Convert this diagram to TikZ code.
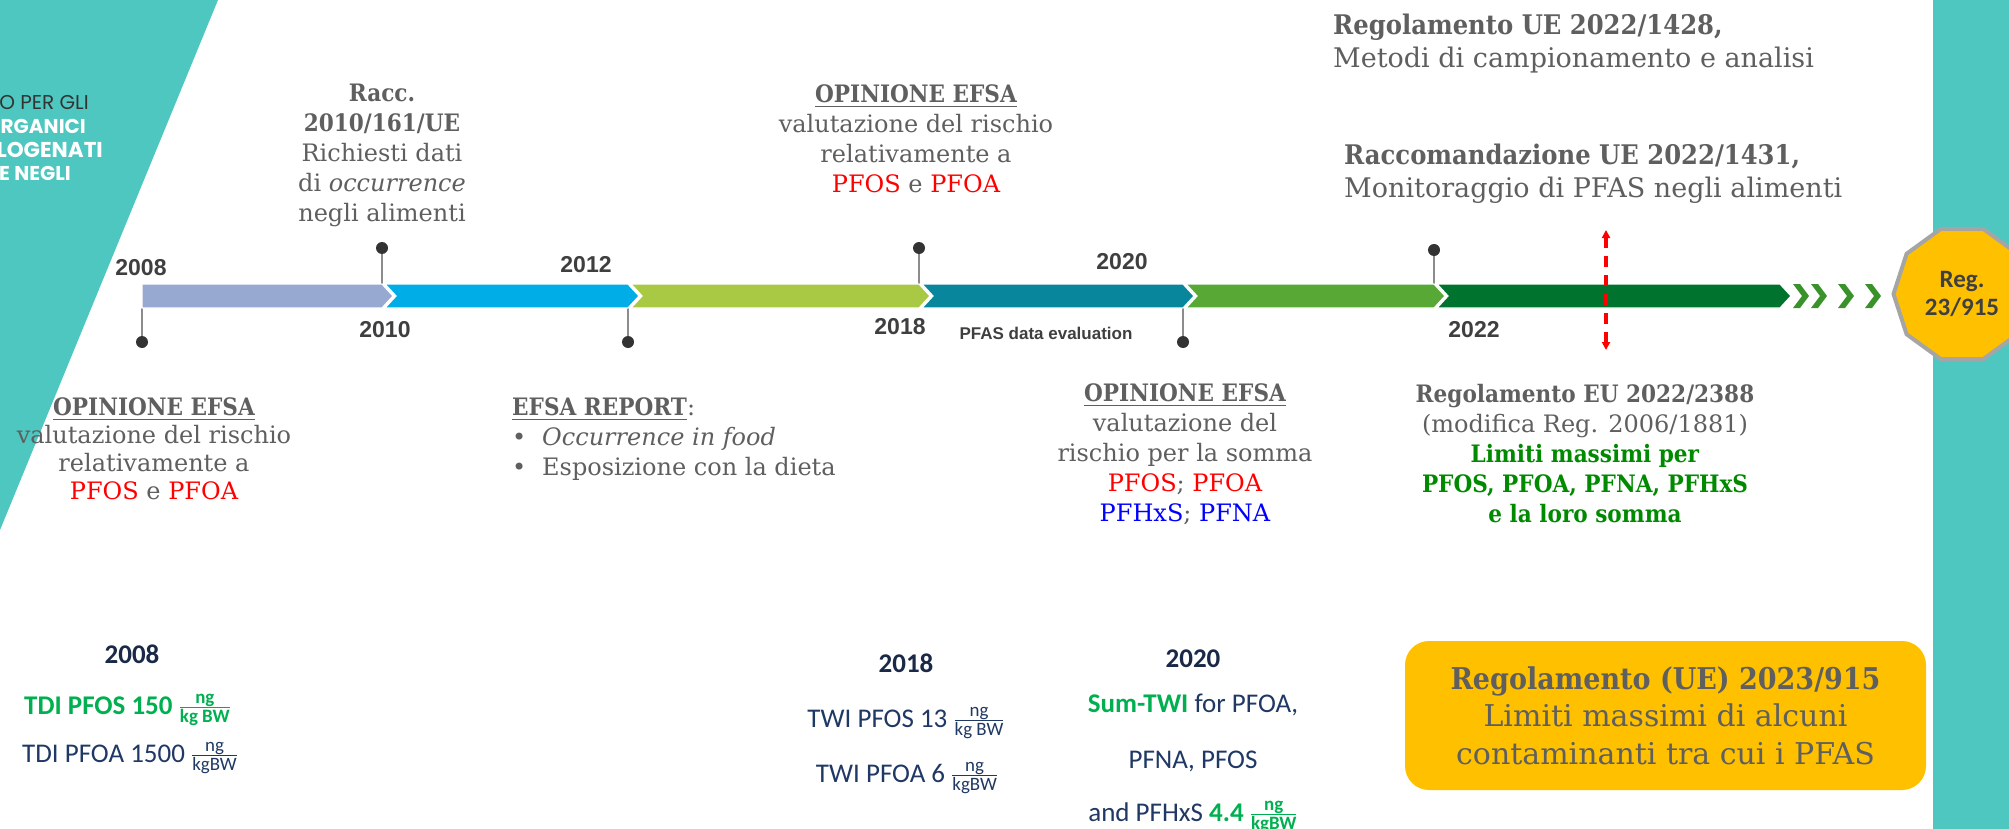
\documentclass[tikz,border=0pt]{standalone}
\usepackage{fontspec}
\usepackage{amsmath}
\setmainfont{DejaVu Serif}[BoldFeatures={FakeStretch=0.9}]
\newfontfamily\calib{Carlito}
\newfontfamily\narrowsans{Liberation Sans}
\newfontfamily\geosans{Poppins}
\usetikzlibrary{shapes.geometric,arrows.meta}

\definecolor{tealbg}{HTML}{4EC7C0}
\definecolor{txtgray}{HTML}{5F5F5F}
\definecolor{segA}{HTML}{97A9D1}
\definecolor{segB}{HTML}{00ADE6}
\definecolor{segC}{HTML}{A9C944}
\definecolor{segD}{HTML}{08879C}
\definecolor{segE}{HTML}{57A834}
\definecolor{segF}{HTML}{00742F}
\definecolor{chev}{HTML}{3A922B}
\definecolor{pfred}{HTML}{FF0000}
\definecolor{pfblue}{HTML}{0000FF}
\definecolor{limgreen}{HTML}{008A00}
\definecolor{navy}{HTML}{1F3864}
\definecolor{navyhead}{HTML}{1A2947}
\definecolor{tdigreen}{HTML}{00B050}
\definecolor{gold}{HTML}{FFC000}
\definecolor{octgray}{HTML}{A5A5A5}
\definecolor{pingray}{HTML}{8C8C8C}
\definecolor{dotgray}{HTML}{333333}
\definecolor{yeargray}{HTML}{3F3F3F}
\definecolor{darktxt}{HTML}{333333}

\newcommand{\unitfr}[2]{\ensuremath{\frac{\text{#1}}{\text{#2}}}}

\tikzset{
  serifnote/.style={font=\fontsize{24}{30}\selectfont, text=txtgray, align=center, inner sep=0pt},
  serifbig/.style={font=\fontsize{27}{33}\selectfont, text=txtgray, align=left, inner sep=0pt},
  yearlbl/.style={font=\narrowsans\bfseries\fontsize{23}{26}\selectfont, text=yeargray, inner sep=0pt},
  pindot/.style={circle, fill=dotgray, minimum size=12pt, inner sep=0pt},
  stem/.style={draw=pingray, line width=1.6pt},
  segment/.style={draw=white, line width=1.2pt},
  lowtext/.style={font=\calib\fontsize{27}{32}\selectfont, text=navy, inner sep=0pt},
  lowhead/.style={font=\calib\bfseries\fontsize{27}{32}\selectfont, text=navyhead, inner sep=0pt},
  sidetext/.style={font=\geosans\fontsize{20}{20}\selectfont, inner sep=0pt, anchor=base east},
  sidebold/.style={sidetext, text=white, font=\geosans\bfseries\fontsize{20}{20}\selectfont},
}

\begin{document}
\begin{tikzpicture}[x=1pt,y=-1pt]
\useasboundingbox (0,0) rectangle (2009,829);
\fill[white] (0,0) rectangle (2009,829);

% side panels
\fill[tealbg] (0,0) -- (218,0) -- (0,530) -- cycle;
\fill[tealbg] (1933,0) rectangle (2009,829);

\node[sidetext, text=darktxt] (side1) at (89,110) {O PER GLI};
\node[sidebold] (side2) at (86,134) {RGANICI};
\node[sidebold, font=\geosans\bfseries\fontsize{21.5}{20}\selectfont] (side3) at (103,158) {LOGENATI};
\node[sidebold] (side4) at (71,181) {E NEGLI};

% pin anchors on the bar
\coordinate (b2008) at (142,308);
\coordinate (b2010) at (382,284);
\coordinate (b2012) at (628,308);
\coordinate (b2018) at (919,284);
\coordinate (b2020) at (1183,308);
\coordinate (b2022) at (1434,284);

\node[pindot] (d2008) at (142,342) {};
\node[pindot] (d2010) at (382,248) {};
\node[pindot] (d2012) at (628,342) {};
\node[pindot] (d2018) at (919,248) {};
\node[pindot] (d2020) at (1183,342) {};
\node[pindot] (d2022) at (1434,250) {};

\draw[stem] (d2008) -- (b2008);
\draw[stem] (d2010) -- (b2010);
\draw[stem] (d2012) -- (b2012);
\draw[stem] (d2018) -- (b2018);
\draw[stem] (d2020) -- (b2020);
\draw[stem] (d2022) -- (b2022);

% timeline segments
\fill[segA, segment] (142,284) -- (382,284) -- (393,296) -- (382,308) -- (142,308) -- cycle;
\fill[segB, segment] (385,284) -- (628,284) -- (639,296) -- (628,308) -- (385,308) -- (396,296) -- cycle;
\fill[segC, segment] (631,284) -- (919,284) -- (930,296) -- (919,308) -- (631,308) -- (642,296) -- cycle;
\fill[segD, segment] (922,284) -- (1183,284) -- (1194,296) -- (1183,308) -- (922,308) -- (933,296) -- cycle;
\fill[segE, segment] (1186,284) -- (1434,284) -- (1445,296) -- (1434,308) -- (1186,308) -- (1197,296) -- cycle;
\fill[segF, segment] (1437,284) -- (1780,284) -- (1791,296) -- (1780,308) -- (1437,308) -- (1448,296) -- cycle;

% trailing chevrons
\foreach \cx in {1793,1811,1838,1865}
  \fill[chev] (\cx,284) -- (\cx+7,284) -- (\cx+16,296) -- (\cx+7,308) -- (\cx,308) -- (\cx+9,296) -- cycle;

% year labels
\node[yearlbl] (y2008) at (141,268) {2008};
\node[yearlbl] (y2010) at (385,330) {2010};
\node[yearlbl] (y2012) at (586,265) {2012};
\node[yearlbl] (y2018) at (900,327) {2018};
\node[yearlbl] (y2020) at (1122,262) {2020};
\node[yearlbl] (y2022) at (1474,330) {2022};
\node[yearlbl, font=\narrowsans\bfseries\fontsize{17}{20}\selectfont] (pfaseval) at (1046,333) {PFAS data evaluation};

% 2022 marker
\coordinate (redtop) at (1606,230);
\coordinate (redbot) at (1606,350);
\draw[draw=pfred, line width=3.5pt, dash pattern=on 11pt off 8pt,
  {Triangle[length=8pt,width=8pt]}-{Triangle[length=8pt,width=8pt]}] (redbot) -- (redtop);

% end marker
\node[regular polygon, regular polygon sides=10, minimum size=137pt, fill=gold,
  draw=octgray, line width=4pt, inner sep=0pt, align=center, text=yeargray,
  font=\calib\bfseries\fontsize{25}{28}\selectfont] (reg915) at (1962,294) {Reg.\\23/915};

% event notes
\node[serifnote] (racc) at (382,155) {\textbf{Racc.}\\\textbf{2010/161/UE}\\Richiesti dati\\di \textit{occurrence}\\negli alimenti};

\node[serifnote, font=\fontsize{24}{28}\selectfont] (op2008) at (154,449) {\textbf{\underline{OPINIONE EFSA}}\\valutazione del rischio\\relativamente a\\\textcolor{pfred}{PFOS} e \textcolor{pfred}{PFOA}};

\node[serifnote, align=left, anchor=west] (report) at (512,439) {\textbf{\underline{EFSA REPORT}}:\\\makebox[30pt][l]{\textbullet}\textit{Occurrence in food}\\\makebox[30pt][l]{\textbullet}Esposizione con la dieta};

\node[serifnote] (op2018) at (916,139) {\textbf{\underline{OPINIONE EFSA}}\\valutazione del rischio\\relativamente a\\\textcolor{pfred}{PFOS} e \textcolor{pfred}{PFOA}};

\node[serifbig, anchor=west] (reg1428) at (1333,44) {\textbf{Regolamento UE 2022/1428,}\\Metodi di campionamento e analisi};

\node[serifbig, anchor=west] (rac1431) at (1344,174) {\textbf{Raccomandazione UE 2022/1431,}\\Monitoraggio di PFAS negli alimenti};

\node[serifnote] (op2020) at (1185,454) {\textbf{\underline{OPINIONE EFSA}}\\valutazione del\\rischio per la somma\\\textcolor{pfred}{PFOS}; \textcolor{pfred}{PFOA}\\\textcolor{pfblue}{PFHxS}; \textcolor{pfblue}{PFNA}};

\node[serifnote] (reg2388) at (1585,454) {\textbf{Regolamento EU 2022/2388}\\(modifica Reg. 2006/1881)\\\textcolor{limgreen}{\textbf{Limiti massimi per}}\\\textcolor{limgreen}{\textbf{PFOS, PFOA, PFNA, PFHxS}}\\\textcolor{limgreen}{\textbf{e la loro somma}}};

\node[fill=gold, rounded corners=24pt, minimum width=521pt, minimum height=149pt,
  inner sep=0pt, align=center, text=txtgray, font=\fontsize{30}{37.5}\selectfont] (box915) at (1665.5,715.5)
  {\textbf{Regolamento (UE) 2023/915}\\Limiti massimi di alcuni\\contaminanti tra cui i PFAS};

% reference values
\node[lowhead, anchor=base] (h2008) at (132,663) {2008};
\node[lowtext, anchor=base west, text=tdigreen, font=\calib\bfseries\fontsize{27}{32}\selectfont] (tdi1) at (24,714) {TDI PFOS 150 \unitfr{ng}{kg BW}};
\node[lowtext, anchor=base west] (tdi2) at (22,762) {TDI PFOA 1500 \unitfr{ng}{kgBW}};

\node[lowhead, anchor=base] (h2018) at (906,672) {2018};
\node[lowtext, anchor=base] (twi1) at (906,727) {TWI PFOS 13 \unitfr{ng}{kg BW}};
\node[lowtext, anchor=base] (twi2) at (907,782) {TWI PFOA 6 \unitfr{ng}{kgBW}};

\node[lowhead, anchor=base] (h2020) at (1193,667) {2020};
\node[lowtext, anchor=base] (sum1) at (1193,712) {\textcolor{tdigreen}{\bfseries Sum-TWI} for PFOA,};
\node[lowtext, anchor=base] (sum2) at (1193,768) {PFNA, PFOS};
\node[lowtext, anchor=base] (sum3) at (1193,821) {and PFHxS \textcolor{tdigreen}{\bfseries 4.4 \unitfr{ng}{kgBW}}};
\end{tikzpicture}
\end{document}
